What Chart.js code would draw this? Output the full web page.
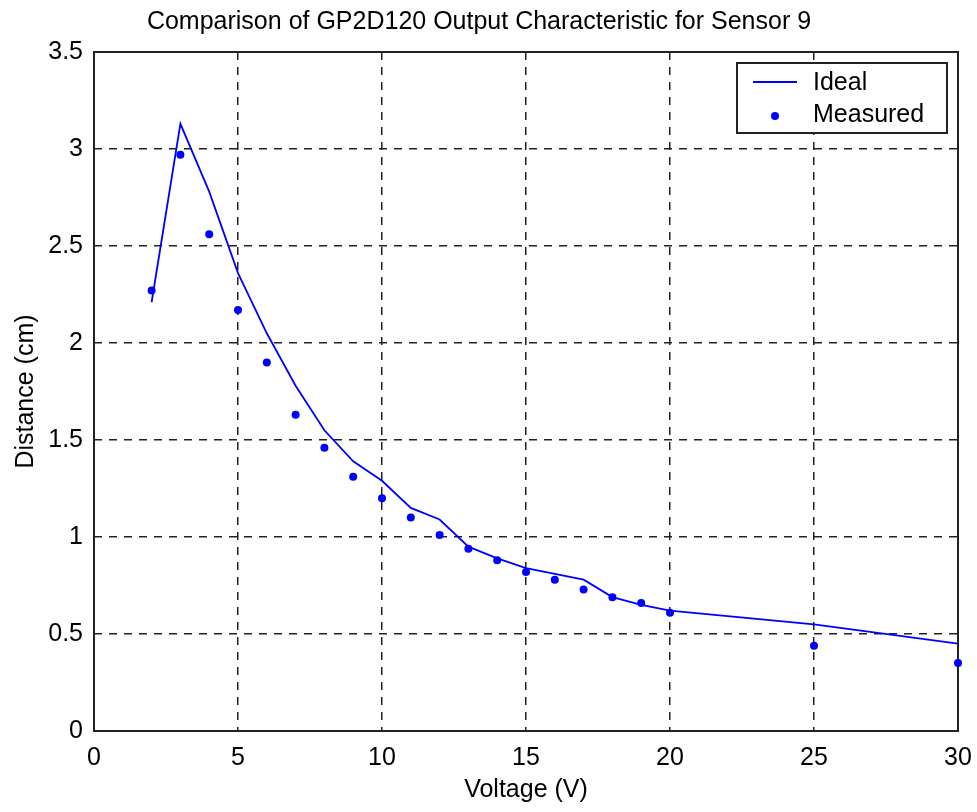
<!DOCTYPE html>
<html>
<head>
<meta charset="utf-8">
<script src="https://cdn.jsdelivr.net/npm/chart.js@4.4.0/dist/chart.umd.min.js"></script>
<style>
  body { margin: 0; background: #fff; }
</style>
</head>
<body>
<canvas id="sensorChart" width="977" height="812"></canvas>
<script>
const voltage = [2, 3, 4, 5, 6, 7, 8, 9, 10, 11, 12, 13, 14, 15, 16, 17, 18, 19, 20, 25, 30];
const ideal = [2.21, 3.13, 2.78, 2.36, 2.05, 1.78, 1.55, 1.39, 1.29, 1.15, 1.09, 0.95, 0.89, 0.84, 0.81, 0.78, 0.69, 0.65, 0.62, 0.55, 0.45];
const measured = [2.27, 2.97, 2.56, 2.17, 1.90, 1.63, 1.46, 1.31, 1.20, 1.10, 1.01, 0.94, 0.88, 0.82, 0.78, 0.73, 0.69, 0.66, 0.61, 0.44, 0.35];
const xTicks = [0, 5, 10, 15, 20, 25, 30];
const yTicks = [0, 0.5, 1, 1.5, 2, 2.5, 3, 3.5];

function toPoints(values) {
    return voltage.map((v, i) => ({ x: v, y: values[i] }));
}

Chart.defaults.font.family = '"Liberation Sans", Arial, sans-serif';
Chart.defaults.font.size = 25;
Chart.defaults.color = '#000';

// box round the plot area, like matlab's "box on"
const axesBox = {
    id: 'axesBox',
    beforeDatasetsDraw(chart) {
        const { ctx, chartArea } = chart;
        ctx.save();
        ctx.strokeStyle = '#222';
        ctx.lineWidth = 2;
        ctx.strokeRect(chartArea.left, chartArea.top, chartArea.right - chartArea.left, chartArea.bottom - chartArea.top);
        ctx.restore();
    }
};

// legend inside the top right corner
const insideLegend = {
    id: 'insideLegend',
    afterDraw(chart) {
        const { ctx, chartArea } = chart;
        const sets = chart.data.datasets;
        const w = 210, h = 70;
        const x = chartArea.right - 11 - w;
        const y = chartArea.top + 11;
        ctx.save();
        ctx.fillStyle = '#fff';
        ctx.fillRect(x, y, w, h);
        ctx.strokeStyle = '#222';
        ctx.lineWidth = 2;
        ctx.strokeRect(x, y, w, h);

        ctx.strokeStyle = sets[0].borderColor;
        ctx.lineWidth = 1.8;
        ctx.beginPath();
        ctx.moveTo(x + 16, y + 19);
        ctx.lineTo(x + 60, y + 19);
        ctx.stroke();

        ctx.fillStyle = sets[1].pointBackgroundColor;
        ctx.beginPath();
        ctx.arc(x + 38, y + 53, 4, 0, Math.PI * 2);
        ctx.fill();

        ctx.fillStyle = '#000';
        ctx.font = '25px "Liberation Sans", Arial, sans-serif';
        ctx.textBaseline = 'middle';
        ctx.fillText(sets[0].label, x + 76, y + 20);
        ctx.fillText(sets[1].label, x + 76, y + 52);
        ctx.restore();
    }
};

const gridOpts = { color: '#222', lineWidth: 1.5, drawTicks: false };

new Chart(document.getElementById('sensorChart'), {
    type: 'scatter',
    data: {
        datasets: [
            {
                label: 'Ideal',
                data: toPoints(ideal),
                showLine: true,
                borderColor: '#0000ff',
                borderWidth: 1.8,
                pointRadius: 0,
                tension: 0,
                clip: false
            },
            {
                label: 'Measured',
                data: toPoints(measured),
                showLine: false,
                pointRadius: 4,
                pointBorderWidth: 0,
                pointBackgroundColor: '#0000ff',
                pointBorderColor: '#0000ff',
                clip: false
            }
        ]
    },
    options: {
        responsive: false,
        animation: false,
        layout: { padding: { top: 0, right: 19, bottom: 0, left: 0 } },
        plugins: {
            legend: { display: false },
            tooltip: { enabled: false },
            title: {
                display: true,
                text: 'Comparison of GP2D120 Output Characteristic for Sensor 9',
                font: { size: 25, weight: 'normal' },
                color: '#000',
                padding: { top: 7, bottom: 15 }
            }
        },
        scales: {
            x: {
                type: 'linear',
                min: 0,
                max: 30,
                afterBuildTicks: scale => { scale.ticks = xTicks.map(v => ({ value: v })); },
                afterFit: scale => {
                    scale.height = 81;
                    scale.paddingLeft = 0;
                    scale.paddingRight = 0;
                },
                ticks: { padding: 12, maxRotation: 0, autoSkip: false, callback: v => String(v) },
                grid: gridOpts,
                border: { display: false, dash: [8, 7] },
                title: { display: true, text: 'Voltage (V)', padding: { top: 0, bottom: 7 } }
            },
            y: {
                type: 'linear',
                min: 0,
                max: 3.5,
                afterBuildTicks: scale => { scale.ticks = yTicks.map(v => ({ value: v })); },
                afterFit: scale => {
                    scale.width = 94;
                    scale.paddingTop = 0;
                    scale.paddingBottom = 0;
                },
                ticks: { padding: 11, autoSkip: false, callback: v => String(v) },
                grid: gridOpts,
                border: { display: false, dash: [8, 7] },
                title: { display: true, text: 'Distance (cm)', padding: { top: 11, bottom: 0 } }
            }
        }
    },
    plugins: [axesBox, insideLegend]
});
</script>
</body>
</html>
